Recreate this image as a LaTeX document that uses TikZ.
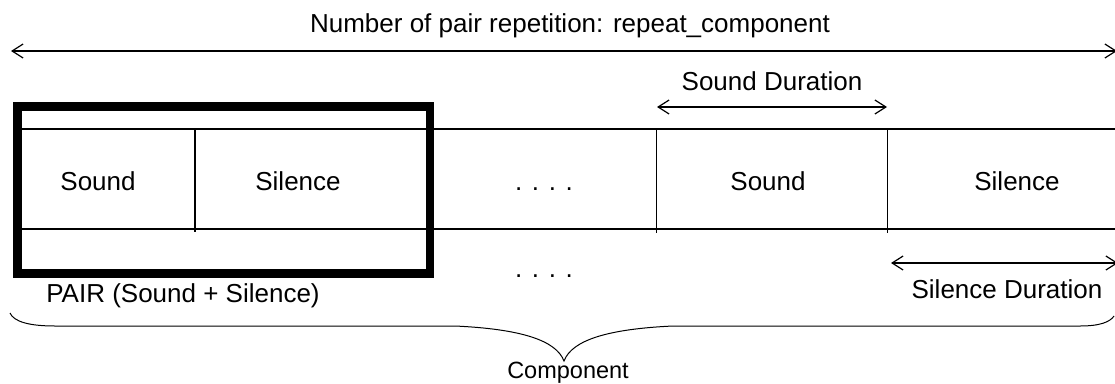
\documentclass[tikz,border=0pt]{standalone}
\usepackage{fontspec}
\setmainfont{Liberation Sans}
\usetikzlibrary{arrows.meta}
\tikzset{
  lbl/.style={inner sep=0pt, anchor=base, font=\fontsize{26}{30}\selectfont},
  smalllbl/.style={lbl, font=\fontsize{23.5}{27}\selectfont},
  dimarrow/.style={line width=1.6pt, {Straight Barb[length=11pt,width=14pt,line width=1.2pt]}-{Straight Barb[length=11pt,width=14pt,line width=1.2pt]}},
  cellline/.style={line width=1.4pt},
  pairframe/.style={line width=8.5pt},
  bracepath/.style={line width=1pt},
}
\begin{document}
\begin{tikzpicture}[x=1pt,y=-1pt]
\useasboundingbox[fill=white] (0,0) rectangle (1115,383);

% overall repetition span
\node[lbl] (reptext) at (570,32) {Number of pair repetition: repeat\_component};
\coordinate (repL) at (11,51);
\coordinate (repR) at (1117,51);
\draw[dimarrow] (repL) -- (repR);

% cell boundaries of the strip
\coordinate (stripTL) at (13,129);
\coordinate (stripTR) at (1117,129);
\coordinate (stripBL) at (13,229);
\coordinate (stripBR) at (1117,229);
\draw[cellline] (stripTL) -- (stripTR);
\draw[cellline] (stripBL) -- (stripBR);
\coordinate (d1t) at (195,129);   \coordinate (d1b) at (195,232);
\coordinate (d2t) at (656.5,129); \coordinate (d2b) at (656.5,233);
\coordinate (d3t) at (887.5,129); \coordinate (d3b) at (887.5,233);
\draw[cellline] (d1t) -- (d1b);
\draw[cellline] (d2t) -- (d2b);
\draw[cellline] (d3t) -- (d3b);

% cell labels
\node[lbl] (snd1) at (98,190) {Sound};
\node[lbl] (sil1) at (298,190) {Silence};
\node[lbl] (dots1) at (544,190) {. . . .};
\node[lbl] (snd2) at (768,190) {Sound};
\node[lbl] (sil2) at (1017,190) {Silence};

% first pair highlighted
\node[draw, pairframe, inner sep=0pt, minimum width=412.5pt, minimum height=167pt, anchor=north west] (pair) at (13,102) {};
\node[lbl] (pairtext) at (183,302) {PAIR (Sound + Silence)};
\node[lbl] (dots2) at (544,277) {. . . .};

% duration markers
\node[lbl] (sdtext) at (772,90) {Sound Duration};
\coordinate (sdL) at (657,107);
\coordinate (sdR) at (887,107);
\draw[dimarrow] (sdL) -- (sdR);

\coordinate (slL) at (891,263);
\coordinate (slR) at (1118,263);
\draw[dimarrow] (slL) -- (slR);
\node[lbl] (sltext) at (1007,298) {Silence Duration};

% brace under the whole component
\coordinate (brL) at (10,313);
\coordinate (brTip) at (564,361);
\coordinate (brR) at (1114,316);
\draw[bracepath] (brL) .. controls (14,322) and (30,326) .. (55,326) -- (455,326)
  .. controls (520,329) and (556,340) .. (brTip)
  .. controls (572,340) and (608,329) .. (673,326) -- (1080,326)
  .. controls (1100,326) and (1110,322) .. (brR);
\node[smalllbl] (comptext) at (568,378) {Component};
\end{tikzpicture}
\end{document}
